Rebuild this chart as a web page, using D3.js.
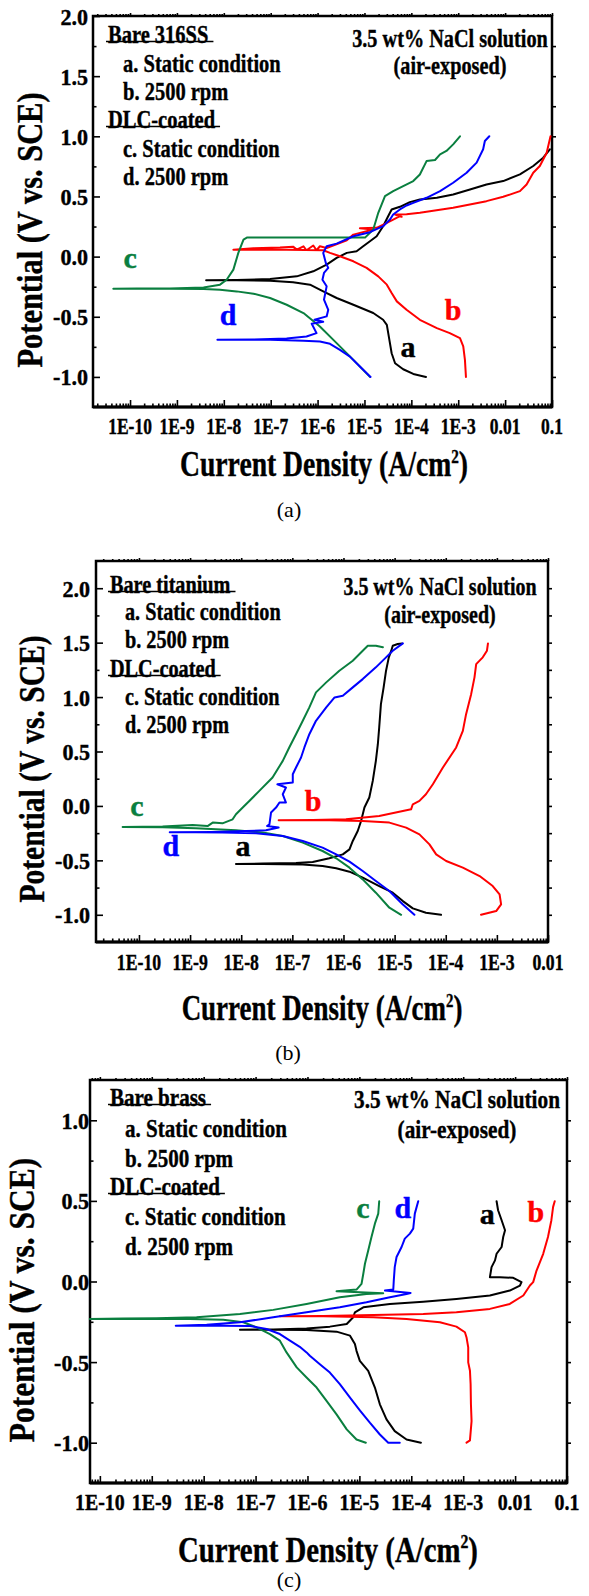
<!DOCTYPE html>
<html>
<head>
<meta charset="utf-8">
<script src="https://cdn.jsdelivr.net/npm/d3@7"></script>
<style>
body { margin: 0; background: #fff; }
</style>
</head>
<body>
<div id="fig"></div>
<script>
// ---- data: [current density (A/cm2), potential (V vs. SCE)] ----

// (a) 316 stainless steel
var ss316_a = [[2.05e-4,-1.0],[1.1e-4,-0.975],[6.7e-5,-0.936],[4.5e-5,-0.886],[3.8e-5,-0.803],[3.4e-5,-0.692],[3.0e-5,-0.567],
  [2.5e-5,-0.525],[1.54e-5,-0.469],[5.8e-6,-0.4],[2.55e-6,-0.344],[1.32e-6,-0.289],[6.9e-7,-0.233],[3.0e-7,-0.214],[9.7e-8,-0.2],
  [1.88e-8,-0.197],[4.2e-9,-0.197],[1.88e-8,-0.194],[9.7e-8,-0.186],[3.6e-7,-0.164],[8.1e-7,-0.122],[1.56e-6,-0.067],[2.55e-6,-0.011],
  [4.2e-6,0.031],[6.8e-6,0.044],[9.4e-6,0.086],[1.31e-5,0.128],[1.82e-5,0.169],[2.5e-5,0.253],[3.2e-5,0.336],[3.8e-5,0.392],
  [5.7e-5,0.414],[9.3e-5,0.453],[1.52e-4,0.475],[3.5e-4,0.489],[7.8e-4,0.517],[1.78e-3,0.558],[4.0e-3,0.6],[9.1e-3,0.628],
  [2.07e-2,0.683],[3.98e-2,0.753],[6.5e-2,0.822],[9.0e-2,0.892]];
var ss316_b = [[1.46e-3,-1.0],[1.39e-3,-0.858],[1.28e-3,-0.747],[1.09e-3,-0.678],[6.6e-4,-0.636],[3.5e-4,-0.594],[1.52e-4,-0.525],
  [7.9e-5,-0.442],[4.9e-5,-0.372],[3.8e-5,-0.303],[3.0e-5,-0.233],[1.97e-5,-0.164],[1.11e-5,-0.094],[5.8e-6,-0.039],[3.0e-6,0.003],
  [1.84e-6,0.031],[1.32e-6,0.053],[2.19e-7,0.058],[4.3e-8,0.058],[1.6e-8,0.058],[4.3e-8,0.069],[1.58e-7,0.075],[3.0e-7,0.083],
  [3.6e-7,0.058],[5.0e-7,0.086],[5.8e-7,0.053],[8.1e-7,0.092],[9.5e-7,0.053],[1.12e-6,0.086],[1.56e-6,0.072],[4.2e-6,0.136],
  [5.8e-6,0.183],[1.54e-5,0.225],[8.0e-6,0.236],[1.82e-5,0.239],[3.0e-5,0.281],[4.1e-5,0.308],[5.7e-5,0.336],[6.2e-5,0.331],
  [4.5e-5,0.35],[7.9e-5,0.353],[1.52e-4,0.364],[7.8e-4,0.406],[4.0e-3,0.461],[9.1e-3,0.497],[2.07e-2,0.544],[2.87e-2,0.6],
  [3.98e-2,0.697],[5.5e-2,0.753],[7.7e-2,0.864],[9.3e-2,1.0]];
var ss316_c = [[1.31e-5,-1.0],[5.8e-6,-0.858],[2.55e-6,-0.719],[1.12e-6,-0.581],[5.0e-7,-0.469],[2.19e-7,-0.4],[9.7e-8,-0.344],
  [4.3e-8,-0.308],[1.88e-8,-0.289],[8.3e-9,-0.275],[3.7e-9,-0.269],[7.1e-10,-0.267],[1.39e-10,-0.267],[4.4e-11,-0.267],
  [1.39e-10,-0.264],[7.1e-10,-0.264],[3.7e-9,-0.256],[8.3e-9,-0.233],[1.15e-8,-0.192],[1.6e-8,-0.108],[2.04e-8,0.031],
  [2.63e-8,0.142],[3.1e-8,0.158],[1.12e-6,0.158],[1.03e-5,0.158],[1.54e-5,0.225],[1.97e-5,0.364],[2.74e-5,0.503],[4.1e-5,0.544],
  [6.7e-5,0.586],[1.1e-4,0.628],[1.52e-4,0.683],[2.11e-4,0.794],[3.2e-4,0.803],[4.1e-4,0.85],[5.6e-4,0.878],[7.8e-4,0.933],
  [1.09e-3,1.0]];
var ss316_d = [[1.35e-5,-1.0],[8.0e-6,-0.914],[4.9e-6,-0.831],[3.0e-6,-0.775],[1.84e-6,-0.725],[1.12e-6,-0.706],[5.0e-7,-0.7],
  [9.7e-8,-0.692],[1.88e-8,-0.692],[7.3e-9,-0.692],[4.3e-8,-0.689],[2.19e-7,-0.681],[5.8e-7,-0.664],[9.5e-7,-0.636],
  [7.5e-7,-0.558],[1.32e-6,-0.542],[8.6e-7,-0.525],[1.56e-6,-0.497],[1.69e-6,-0.442],[1.37e-6,-0.358],[1.56e-6,-0.247],
  [1.27e-6,-0.192],[1.37e-6,-0.136],[1.69e-6,-0.094],[1.5e-6,-0.053],[1.32e-6,0.031],[1.56e-6,0.086],[2.55e-6,0.108],
  [5.8e-6,0.169],[1.31e-5,0.203],[2.5e-5,0.253],[3.5e-5,0.308],[4.1e-5,0.35],[5.7e-5,0.392],[7.9e-5,0.425],[1.1e-4,0.447],
  [2.11e-4,0.489],[4.1e-4,0.544],[7.8e-4,0.614],[1.51e-3,0.697],[2.47e-3,0.781],[3.4e-3,0.892],[3.7e-3,0.961],[4.6e-3,1.0]];

// (b) titanium
var ti_a = [[8.1e-5,-1.0],[4.1e-5,-0.981],[2.27e-5,-0.941],[1.45e-5,-0.874],[9.2e-6,-0.797],[5.0e-6,-0.736],[2.38e-6,-0.659],
  [1.31e-6,-0.604],[7.2e-7,-0.573],[3.9e-7,-0.552],[1.6e-7,-0.537],[2.63e-8,-0.534],[7.9e-9,-0.534],[2.63e-8,-0.53],
  [1.18e-7,-0.524],[2.5e-7,-0.515],[5.3e-7,-0.481],[9.7e-7,-0.445],[1.31e-6,-0.399],[1.52e-6,-0.322],[1.9e-6,-0.23],
  [2.21e-6,-0.138],[2.57e-6,-0.015],[3.2e-6,0.077],[3.74e-6,0.23],[4.3e-6,0.414],[4.7e-6,0.567],[5.0e-6,0.721],[5.4e-6,0.935],
  [6.1e-6,1.089],[6.8e-6,1.242],[7.7e-6,1.365],[8.6e-6,1.426],[9.2e-6,1.472],[1.15e-5,1.487],[1.4e-5,1.493]];
var ti_b = [[4.9e-4,-1.0],[9.7e-4,-0.966],[1.21e-3,-0.905],[1.13e-3,-0.813],[8.3e-4,-0.736],[4.6e-4,-0.644],[2.16e-4,-0.567],
  [1.02e-4,-0.506],[6.5e-5,-0.445],[4.8e-5,-0.353],[3.06e-5,-0.261],[1.68e-5,-0.199],[7.9e-6,-0.153],[2.38e-6,-0.138],
  [5.3e-7,-0.132],[1.18e-7,-0.132],[5.4e-8,-0.132],[2.5e-7,-0.129],[1.12e-6,-0.123],[5.0e-6,-0.092],[1.45e-5,-0.046],
  [2.1e-5,-0.031],[2.27e-5,0.015],[3.06e-5,0.046],[4.1e-5,0.107],[5.6e-5,0.199],[8.8e-5,0.353],[1.6e-4,0.537],[2.16e-4,0.69],
  [2.5e-4,0.843],[3.14e-4,1.027],[3.65e-4,1.181],[3.94e-4,1.303],[5.3e-4,1.365],[6.4e-4,1.426],[6.7e-4,1.493]];
var ti_c = [[1.34e-5,-1.0],[7.9e-6,-0.935],[4.3e-6,-0.797],[2.38e-6,-0.675],[1.31e-6,-0.567],[7.2e-7,-0.481],[3.9e-7,-0.414],
  [1.6e-7,-0.337],[6.5e-8,-0.276],[2.63e-8,-0.245],[7.9e-9,-0.224],[1.3e-9,-0.205],[2.9e-10,-0.196],[4.8e-11,-0.193],
  [2.9e-10,-0.19],[1.12e-9,-0.175],[2.2e-9,-0.185],[2.77e-9,-0.153],[4.3e-9,-0.16],[6.8e-9,-0.123],[7.9e-9,-0.077],
  [1.07e-8,-0.015],[1.44e-8,0.046],[2.26e-8,0.138],[4.1e-8,0.261],[6.5e-8,0.414],[8.7e-8,0.537],[1.18e-7,0.659],[1.6e-7,0.782],
  [2.15e-7,0.905],[2.9e-7,1.043],[4.6e-7,1.135],[8.3e-7,1.242],[1.52e-6,1.334],[2.38e-6,1.426],[2.99e-6,1.472],[4.3e-6,1.472],
  [5.9e-6,1.457]];
var ti_d = [[2.44e-5,-1.0],[1.45e-5,-0.905],[7.9e-6,-0.782],[4.3e-6,-0.69],[2.38e-6,-0.598],[1.31e-6,-0.512],[7.2e-7,-0.445],
  [3.9e-7,-0.383],[1.6e-7,-0.322],[6.5e-8,-0.276],[1.95e-8,-0.251],[4.3e-9,-0.245],[1.3e-9,-0.242],[4.0e-10,-0.242],
  [2.77e-9,-0.239],[1.24e-8,-0.23],[3.05e-8,-0.224],[5.4e-8,-0.199],[3.2e-8,-0.184],[3.56e-8,-0.169],[3.83e-8,-0.061],
  [4.8e-8,-0.015],[5.6e-8,0.031],[7.5e-8,0.031],[6.5e-8,0.107],[7.5e-8,0.169],[5.1e-8,0.199],[1.02e-7,0.215],[1.02e-7,0.291],
  [1.18e-7,0.353],[1.48e-7,0.445],[1.72e-7,0.537],[2.15e-7,0.659],[2.9e-7,0.782],[4.6e-7,0.905],[6.7e-7,0.997],[9.7e-7,1.012],
  [1.52e-6,1.089],[2.38e-6,1.165],[4.3e-6,1.273],[6.8e-6,1.365],[9.2e-6,1.426],[1.45e-5,1.493]];

// (c) brass
var brass_a = [[1.53e-4,-1.0],[8.1e-5,-0.98],[4.8e-5,-0.928],[3.33e-5,-0.855],[2.48e-5,-0.762],[1.99e-5,-0.658],[1.48e-5,-0.554],
  [1.02e-5,-0.492],[8.8e-6,-0.43],[8.2e-6,-0.388],[6.6e-6,-0.336],[3.63e-6,-0.311],[9.6e-7,-0.301],[2.19e-7,-0.299],[5.0e-8,-0.299],
  [2.19e-7,-0.297],[9.6e-7,-0.291],[2.7e-6,-0.28],[5.7e-6,-0.264],[7.6e-6,-0.222],[8.2e-6,-0.191],[1.19e-5,-0.16],[3.87e-5,-0.139],
  [1.7e-4,-0.125],[7.4e-4,-0.108],[3.27e-3,-0.087],[7.9e-3,-0.056],[1.24e-2,-0.025],[1.33e-2,-0.004],[9.2e-3,0.023],[5.1e-3,0.027],
  [3.27e-3,0.027],[3.52e-3,0.089],[4.1e-3,0.131],[4.4e-3,0.172],[5.5e-3,0.214],[5.9e-3,0.276],[6.4e-3,0.318],[5.5e-3,0.38],
  [4.7e-3,0.442],[4.4e-3,0.498]];
var brass_b = [[1.16e-3,-1.0],[1.35e-3,-0.986],[1.45e-3,-0.866],[1.41e-3,-0.762],[1.39e-3,-0.637],[1.35e-3,-0.554],[1.25e-3,-0.502],
  [1.25e-3,-0.409],[1.16e-3,-0.347],[1.08e-3,-0.315],[7.4e-4,-0.28],[3.56e-4,-0.253],[8.1e-5,-0.232],[1.85e-5,-0.222],[2.01e-6,-0.216],
  [2.94e-7,-0.216],[2.01e-6,-0.214],[1.85e-5,-0.208],[1.7e-4,-0.201],[7.4e-4,-0.191],[3.27e-3,-0.17],[7.9e-3,-0.139],[1.44e-2,-0.087],
  [1.93e-2,-0.025],[2.23e-2,-0.004],[2.59e-2,0.068],[3.48e-2,0.172],[4.3e-2,0.276],[5.0e-2,0.38],[5.4e-2,0.463],[5.8e-2,0.498]];
var brass_c = [[1.33e-5,-1.0],[8.8e-6,-0.98],[5.7e-6,-0.917],[3.63e-6,-0.824],[2.33e-6,-0.741],[1.5e-6,-0.658],[9.6e-7,-0.596],
  [6.2e-7,-0.533],[3.95e-7,-0.44],[2.94e-7,-0.367],[1.89e-7,-0.326],[1.04e-7,-0.284],[5.8e-8,-0.253],[2.38e-8,-0.237],
  [5.4e-9,-0.232],[5.9e-10,-0.232],[6.4e-11,-0.232],[2.82e-10,-0.23],[1.24e-9,-0.228],[7.3e-9,-0.222],[5.0e-8,-0.201],
  [2.19e-7,-0.176],[9.6e-7,-0.139],[4.2e-6,-0.098],[1.37e-5,-0.077],[2.88e-5,-0.073],[3.63e-6,-0.06],[8.8e-6,-0.05],
  [1.1e-5,-0.015],[1.19e-5,0.048],[1.28e-5,0.11],[1.48e-5,0.193],[1.71e-5,0.276],[1.99e-5,0.359],[2.31e-5,0.421],[2.41e-5,0.498]];
var brass_d = [[6.0e-5,-1.0],[3.6e-5,-1.0],[2.48e-5,-0.949],[1.59e-5,-0.876],[1.02e-5,-0.799],[6.6e-6,-0.72],[4.2e-6,-0.637],
  [2.7e-6,-0.565],[1.73e-6,-0.513],[1.11e-6,-0.461],[9.6e-7,-0.44],[7.1e-7,-0.405],[4.6e-7,-0.367],[2.94e-7,-0.326],
  [1.63e-7,-0.295],[7.8e-8,-0.276],[2.38e-8,-0.274],[2.9e-9,-0.274],[1.14e-8,-0.268],[5.0e-8,-0.253],[2.19e-7,-0.222],
  [9.6e-7,-0.191],[4.2e-6,-0.16],[1.37e-5,-0.129],[3.87e-5,-0.098],[8.1e-5,-0.077],[9.7e-5,-0.071],[3.1e-5,-0.056],
  [4.5e-5,-0.05],[4.6e-5,0.006],[4.8e-5,0.089],[5.2e-5,0.152],[6.5e-5,0.214],[7.5e-5,0.266],[9.4e-5,0.297],[1.09e-4,0.328],
  [1.17e-4,0.421],[1.36e-4,0.498]];

// tick values and labels
var yTicksAB = [-1.0, -0.5, 0.0, 0.5, 1.0, 1.5, 2.0];
var yLabelsAB = ["-1.0", "-0.5", "0.0", "0.5", "1.0", "1.5", "2.0"];
var yTicksC = [-1.0, -0.5, 0.0, 0.5, 1.0];
var yLabelsC = ["-1.0", "-0.5", "0.0", "0.5", "1.0"];
var xTicksAC = [1e-10, 1e-9, 1e-8, 1e-7, 1e-6, 1e-5, 1e-4, 1e-3, 1e-2, 1e-1];
var xLabelsAC = ["1E-10", "1E-9", "1E-8", "1E-7", "1E-6", "1E-5", "1E-4", "1E-3", "0.01", "0.1"];
var xTicksB = [1e-10, 1e-9, 1e-8, 1e-7, 1e-6, 1e-5, 1e-4, 1e-3, 1e-2];
var xLabelsB = ["1E-10", "1E-9", "1E-8", "1E-7", "1E-6", "1E-5", "1E-4", "1E-3", "0.01"];

var legendA = ["Bare 316SS", "a. Static condition", "b. 2500 rpm", "DLC-coated", "c. Static condition", "d. 2500 rpm"];
var legendB = ["Bare titanium", "a. Static condition", "b. 2500 rpm", "DLC-coated", "c. Static condition", "d. 2500 rpm"];
var legendC = ["Bare brass", "a. Static condition", "b. 2500 rpm", "DLC-coated", "c. Static condition", "d. 2500 rpm"];

var curveColors = {a: "#000000", b: "#ff0000", c: "#0a7f3f", d: "#0000ff"};

// ---- drawing ----
var FONT = "'Liberation Serif', 'Times New Roman', serif";
var svg = d3.select("#fig").append("svg").attr("width", 589).attr("height", 1596);

function txt(g, x, y, s, size, o) {
  o = o || {};
  var bold = (o.weight || "bold") === "bold";
  var fill = o.fill || "#000";
  return g.append("text")
    .attr("transform", "translate(" + x + "," + y + ")" + (o.rot ? " rotate(" + o.rot + ")" : "") + " scale(" + (o.k || 1) + ",1)")
    .attr("text-anchor", o.anchor || "start")
    .attr("font-family", FONT)
    .attr("font-size", size)
    .attr("font-weight", bold ? "bold" : "normal")
    .attr("fill", fill)
    .attr("stroke", bold ? fill : "none")
    .attr("stroke-width", bold ? 0.4 : 0)
    .text(s);
}

function panel(p) {
  var g = svg.append("g");
  var x = d3.scaleLog().domain(p.xDomain).range([p.l, p.r]);
  var y = d3.scaleLinear().domain(p.yDomain).range([p.b, p.t]);

  var minorX = [];
  for (var e = -11; e <= 0; e++) {
    for (var k = 2; k <= 9; k++) {
      var v = k * Math.pow(10, e);
      if (v > p.xDomain[0] && v < p.xDomain[1]) minorX.push(v);
    }
  }
  var minorY = [], allY = [];
  for (var q = p.yDomain[0] + 0.25; q < p.yDomain[1] + 0.01; q += 0.25) {
    q = Math.round(q * 100) / 100;
    if (q < p.yDomain[1]) allY.push(q);
    if (p.yTicks.indexOf(q) < 0 && q < p.yDomain[1]) minorY.push(q);
  }

  function axis(a, vals, size, tr) {
    var s = g.append("g").attr("transform", tr)
      .call(a.tickValues(vals).tickSize(size).tickFormat(""));
    s.select(".domain").remove();
    s.selectAll("line").attr("stroke-width", 1.6);
  }
  axis(d3.axisBottom(x), p.xTicks, -7, "translate(0," + p.b + ")");
  axis(d3.axisBottom(x), minorX, -3.5, "translate(0," + p.b + ")");
  axis(d3.axisTop(x), p.xTicks, 3, "translate(0," + p.t + ")");
  axis(d3.axisTop(x), minorX, 2, "translate(0," + p.t + ")");
  axis(d3.axisLeft(y), p.yTicks, -7, "translate(" + p.l + ",0)");
  axis(d3.axisLeft(y), minorY, -3.5, "translate(" + p.l + ",0)");
  axis(d3.axisRight(y), allY, 4, "translate(" + p.r + ",0)");

  g.append("rect").attr("x", p.l).attr("y", p.t).attr("width", p.r - p.l).attr("height", p.b - p.t)
    .attr("fill", "none").attr("stroke", "#000").attr("stroke-width", 2.5);
  g.append("line").attr("x1", p.l).attr("x2", p.r).attr("y1", p.b).attr("y2", p.b)
    .attr("stroke", "#000").attr("stroke-width", 3);

  // tick labels
  p.xTicks.forEach(function(v, i) {
    txt(g, x(v), p.xLabelY, p.xLabels[i], p.xFont, {anchor: "middle", k: p.xK});
  });
  p.yTicks.forEach(function(v, i) {
    txt(g, p.yLabelX, y(v) + 8.5, p.yLabels[i], 24, {anchor: "end", k: 0.92});
  });

  // axis titles
  var t = txt(g, p.xTitle[0], p.xTitle[1], "Current Density (A/cm", p.xTitle[2], {anchor: "middle", k: p.xTitle[3]});
  t.append("tspan").attr("dy", -p.xTitle[2] * 0.38).attr("font-size", p.xTitle[2] * 0.55).text("2");
  t.append("tspan").attr("dy", p.xTitle[2] * 0.38).text(")");
  txt(g, p.yTitle[0], p.yTitle[1], "Potential (V vs. SCE)", 35, {anchor: "middle", rot: -90, k: p.yTitle[2]});

  // curves
  var line = d3.line().x(function(d) { return x(d[0]); }).y(function(d) { return y(d[1]); });
  ["a", "b", "c", "d"].forEach(function(key) {
    g.append("path").attr("d", line(p.curves[key])).attr("fill", "none")
      .attr("stroke", curveColors[key]).attr("stroke-width", 2)
      .attr("stroke-linejoin", "round").attr("stroke-linecap", "round");
  });
  ["a", "b", "c", "d"].forEach(function(key) {
    var pos = p.tags[key];
    txt(g, x(pos[0]), y(pos[1]), key, 30, {anchor: "middle", fill: curveColors[key]});
  });

  // legend
  p.legend.forEach(function(s, i) {
    var head = (i === 0 || i === 3);
    var tx = head ? p.legendX : p.legendX + 15;
    var el = txt(g, tx, p.legendY[i], s, p.legendFont, {k: p.legendK});
    if (head) {
      var w = el.node().getComputedTextLength() * p.legendK;
      g.append("line").attr("x1", tx - 2).attr("x2", tx + w + 5)
        .attr("y1", p.legendY[i] - 1.5).attr("y2", p.legendY[i] - 1.5)
        .attr("stroke", "#000").attr("stroke-width", 1.4);
    }
  });
  txt(g, p.note[0], p.note[1], "3.5 wt% NaCl solution", p.note[3], {anchor: "middle", k: p.note[4]});
  txt(g, p.note[0], p.note[2], "(air-exposed)", p.note[3], {anchor: "middle", k: p.note[4]});

  // caption
  txt(g, p.caption[0], p.caption[1], p.caption[2], 22, {anchor: "middle", weight: "normal"});
}

panel({
  l: 93, r: 552, t: 16, b: 407,
  xDomain: [Math.pow(10, -10.79), 0.1], yDomain: [-1.25, 2.0],
  xTicks: xTicksAC, xLabels: xLabelsAC, xLabelY: 434, xFont: 23, xK: 0.76,
  yTicks: yTicksAB, yLabels: yLabelsAB, yLabelX: 88,
  xTitle: [324, 476, 35, 0.79], yTitle: [42, 230, 0.87],
  curves: {a: ss316_a, b: ss316_b, c: ss316_c, d: ss316_d},
  tags: {c: [1e-10, -0.092], d: [1.23e-8, -0.567], b: [7.8e-4, -0.525], a: [8.5e-5, -0.833]},
  legend: legendA, legendX: 108, legendY: [43, 72, 100, 128, 157, 185], legendFont: 25, legendK: 0.82,
  note: [450, 47, 74, 25, 0.81],
  caption: [289, 517, "(a)"]
});

panel({
  l: 96, r: 548, t: 561, b: 942,
  xDomain: [Math.pow(10, -10.84), 0.01], yDomain: [-1.25, 2.25],
  xTicks: xTicksB, xLabels: xLabelsB, xLabelY: 970, xFont: 23, xK: 0.77,
  yTicks: yTicksAB, yLabels: yLabelsAB, yLabelX: 90,
  xTitle: [322, 1020, 35, 0.77], yTitle: [44, 769, 0.845],
  curves: {a: ti_a, b: ti_b, c: ti_c, d: ti_d},
  tags: {c: [9.1e-11, -0.092], d: [4.2e-10, -0.46], a: [1.08e-8, -0.46], b: [2.54e-7, -0.046]},
  legend: legendB, legendX: 110, legendY: [593, 620, 648, 677, 705, 733], legendFont: 25, legendK: 0.81,
  note: [440, 595, 623, 25, 0.8],
  caption: [288, 1060, "(b)"]
});

panel({
  l: 90, r: 567, t: 1080, b: 1483,
  xDomain: [Math.pow(10, -10.19), 0.1], yDomain: [-1.25, 1.25],
  xTicks: xTicksAC, xLabels: xLabelsAC, xLabelY: 1510, xFont: 24, xK: 0.83,
  yTicks: yTicksC, yLabels: yLabelsC, yLabelX: 89,
  xTitle: [328, 1562, 36, 0.8], yTitle: [34, 1300, 0.9],
  curves: {a: brass_a, b: brass_b, c: brass_c, d: brass_d},
  tags: {c: [1.17e-5, 0.392], d: [6.9e-5, 0.392], a: [2.9e-3, 0.355], b: [2.5e-2, 0.367]},
  legend: legendC, legendX: 110, legendY: [1106, 1137, 1167, 1195, 1225, 1255], legendFont: 26, legendK: 0.81,
  note: [457, 1108, 1138, 26, 0.82],
  caption: [289, 1587, "(c)"]
});
</script>
</body>
</html>
